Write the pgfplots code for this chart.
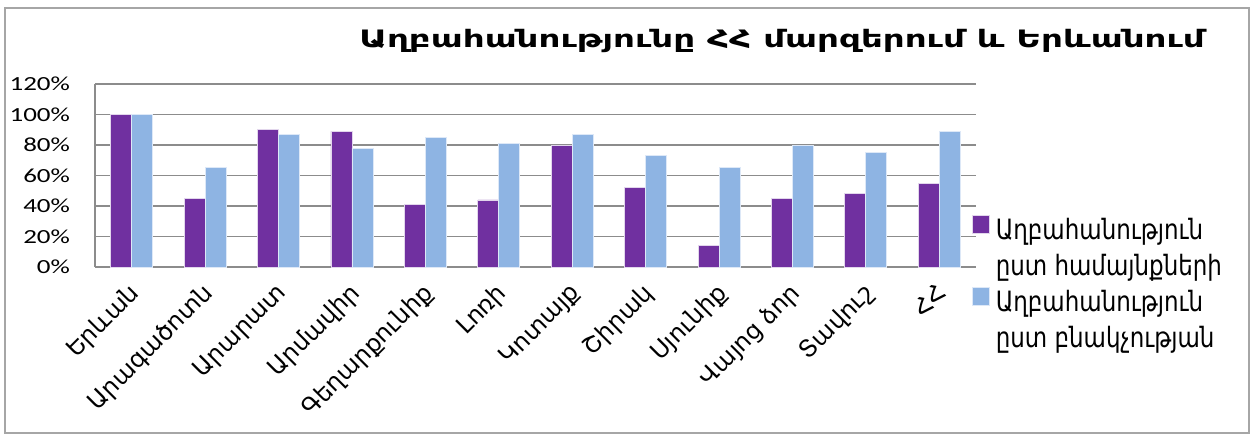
\documentclass[border=0pt]{standalone}
\usepackage{fontspec}
\setmainfont{DejaVu Sans}
\newfontfamily\armfont{DejaVu Sans}
\newfontfamily\legfont{DejaVu Sans}[FakeStretch=0.82]
\newfontfamily\titlefont{DejaVu Sans Bold}[FakeStretch=1.42]
\newfontfamily\tickfont{Carlito}[FakeStretch=1.35]
\usepackage{pgfplots}
\pgfplotsset{compat=1.18}
\definecolor{serA}{HTML}{7030A0}
\definecolor{serB}{HTML}{8EB4E3}
\definecolor{gridc}{HTML}{8C8C8C}
\begin{document}
\begin{tikzpicture}
\useasboundingbox (0,0) rectangle (627pt,217.5pt);
\draw[gray!70, line width=1pt] (2.5pt,1pt) rectangle (624.5pt,213.5pt);
\node[font=\titlefont\fontsize{12}{14}\selectfont] at (391pt,197pt) {Աղբահանությունը ՀՀ մարզերում և Երևանում};
\begin{axis}[
  at={(47.5pt,84pt)}, anchor=south west,
  scale only axis, width=440.5pt, height=91.5pt,
  ybar=0pt, bar width=10.5pt,
  xmin=-0.5, xmax=11.5, ymin=0, ymax=120,
  axis lines*=left,
  axis line style={gridc, line width=0.8pt},
  ymajorgrids, grid style={gridc, line width=0.8pt},
  xtick={0,...,11},
  xticklabels={Երևան,Արագածոտն,Արարատ,Արմավիր,Գեղարքունիք,Լոռի,Կոտայք,Շիրակ,Սյունիք,Վայոց ձոր,Տավուշ,ՀՀ},
  xticklabel style={font=\armfont\fontsize{12}{14}\selectfont, xshift=-2pt, yshift=2pt, rotate=45, anchor=north east},
  ytick={0,20,...,120},
  yticklabel={\pgfmathprintnumber{\tick}\%},
  yticklabel style={font=\tickfont\fontsize{10}{12}\selectfont, xshift=-9pt},
  /pgf/number format/assume math mode=true,
  major tick style={draw=none},
  legend style={at={(0.995,0.29)}, anchor=north west, draw=none, fill=none, inner sep=0pt,
    font=\legfont\fontsize{14}{16}\selectfont, row sep=0pt,
    nodes={text height=10.5pt, text depth=3pt, inner ysep=2.25pt, inner xsep=3pt}},
  legend cell align=left,
  legend image code/.code={\fill[#1] (0pt,-0.5pt) rectangle (8.5pt,8.5pt);},
]
\addplot[fill=serA, draw=white!80!serA, line width=0.4pt, bar shift=-5.25pt] coordinates {
(0,100) (1,45) (2,90) (3,89) (4,41) (5,44) (6,80) (7,52) (8,14) (9,45) (10,48) (11,55)};
\addlegendentry{Աղբահանություն}
\addlegendimage{empty legend}
\addlegendentry{ըստ համայնքների}
\addplot[fill=serB, draw=white!70!serB, line width=0.4pt, bar shift=5.25pt] coordinates {
(0,100) (1,65) (2,87) (3,78) (4,85) (5,81) (6,87) (7,73) (8,65) (9,80) (10,75) (11,89)};
\addlegendentry{Աղբահանություն}
\addlegendimage{empty legend}
\addlegendentry{ըստ բնակչության}
\end{axis}
\end{tikzpicture}
\end{document}
